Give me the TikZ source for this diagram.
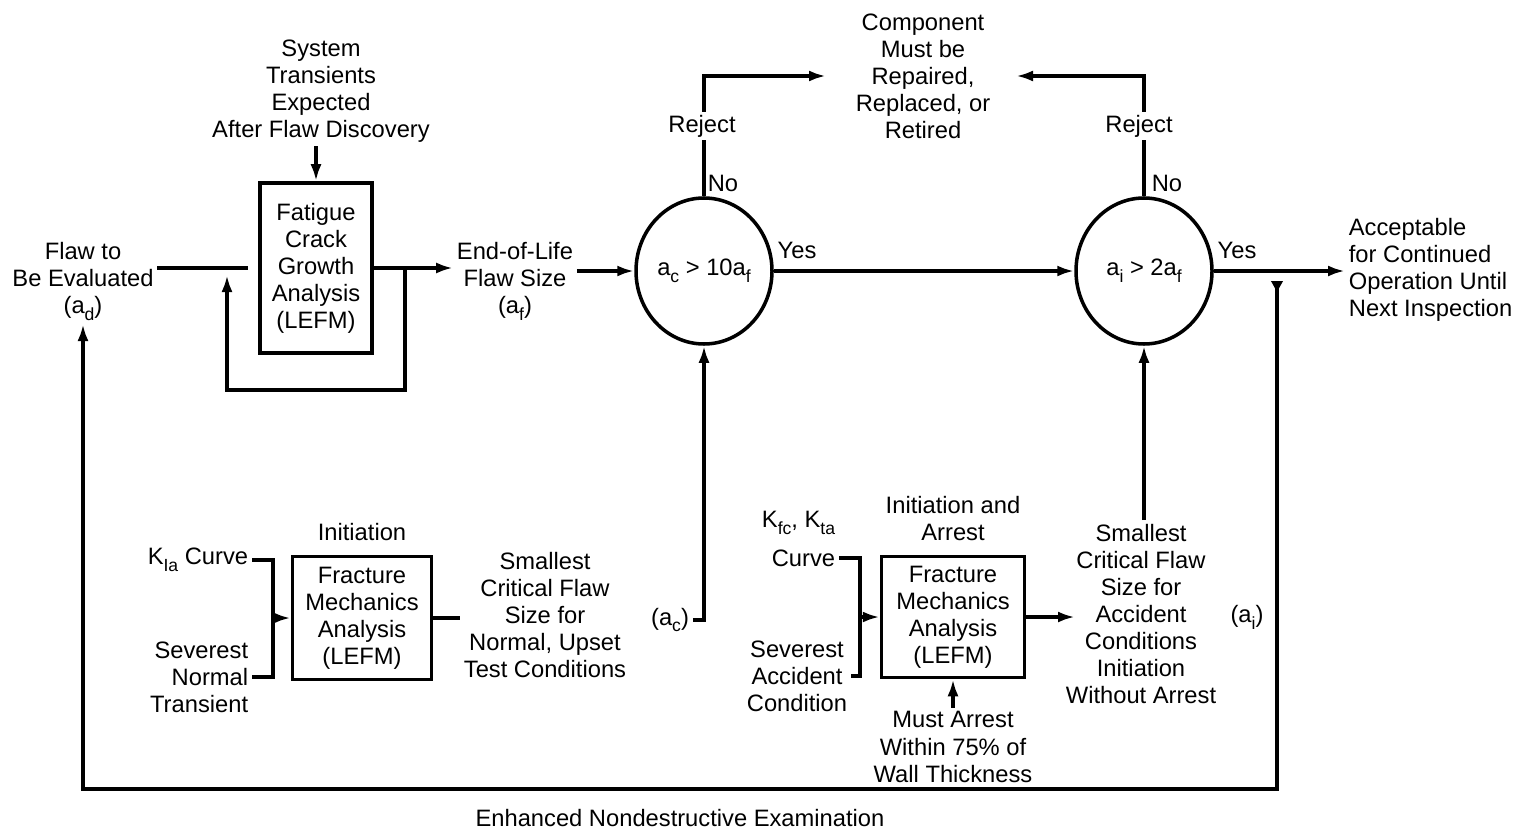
\documentclass[tikz,border=0pt]{standalone}
\usepackage{fontspec}
\setmainfont{Liberation Sans}
\usepackage{tikz}
\usetikzlibrary{positioning, arrows.meta, shapes.geometric}
\newcommand{\lsub}[1]{\raisebox{-0.55ex}{\fontsize{10}{10}\selectfont #1}}

\begin{document}
\begin{tikzpicture}[
  x=0.2mm, y=-0.2mm,
  font=\fontsize{13.5}{15.4}\selectfont,
  txt/.style={align=center, inner sep=2pt},
  box/.style={draw, line width=2pt, align=center, inner sep=0pt},
  test/.style={draw, ellipse, line width=2pt, inner sep=0pt,
               minimum width=27.2mm, minimum height=29.2mm},
  line/.style={line width=2pt},
  arr/.style={line width=2pt, -{Latex[length=3.4mm, width=2.2mm]}},
  tag/.style={fill=white, inner sep=1.5pt},
]
  \useasboundingbox (0,0) rectangle (1525,831);

  \node[box, minimum width=22.4mm, minimum height=34mm] (fatigue) at (316,268) {Fatigue\\Crack\\Growth\\Analysis\\(LEFM)};
  \node[box, minimum width=27.8mm, minimum height=24.6mm] (fr1) at (362,618) {Fracture\\Mechanics\\Analysis\\(LEFM)};
  \node[box, minimum width=28.6mm, minimum height=24.2mm] (fr2) at (953,617) {Fracture\\Mechanics\\Analysis\\(LEFM)};
  \node[test] (c1) at (704,271) {a\lsub{c} > 10a\lsub{f}};
  \node[test] (c2) at (1144,271) {a\lsub{i} > 2a\lsub{f}};

  \node[txt] (sys) at (321,91) {System\\Transients\\Expected\\After Flaw Discovery};
  \node[txt] (flaw) at (83,281) {Flaw to\\Be Evaluated\\(a\lsub{d})};
  \node[txt] (eol) at (515,281) {End-of-Life\\Flaw Size\\(a\lsub{f})};
  \node[txt] (comp) at (923,76) {Component\\Must be\\Repaired,\\Replaced, or\\Retired};
  \node[txt, align=left, anchor=west] (accept) at (1345,270) {Acceptable\\for Continued\\Operation Until\\Next Inspection};

  \node[txt, anchor=east] (kia) at (252,560) {K\lsub{Ia} Curve};
  \node[txt, align=right, anchor=east] (sev1) at (252,677) {Severest\\Normal\\Transient};
  \node[txt, above=2mm of fr1] (init1) {Initiation};
  \node[txt] (small1) at (545,615) {Smallest\\Critical Flaw\\Size for\\Normal, Upset\\Test Conditions};
  \node[txt] (ac) at (670,620) {(a\lsub{c})};

  \node[txt, anchor=east] (kfc) at (839,523) {K\lsub{fc}, K\lsub{ta}};
  \node[txt, anchor=east] (curve2) at (839,558) {Curve};
  \node[txt] (sev2) at (797,676) {Severest\\Accident\\Condition};
  \node[txt, above=2mm of fr2] (init2) {Initiation and\\Arrest};
  \node[txt] (must) at (953,747) {Must Arrest\\Within 75\% of\\Wall Thickness};
  \node[txt] (small2) at (1141,614) {Smallest\\Critical Flaw\\Size for\\Accident\\Conditions\\Initiation\\Without Arrest};
  \node[txt] (ai) at (1247,617) {(a\lsub{i})};
  \node[txt] (nde) at (680,818) {Enhanced Nondestructive Examination};

  \coordinate (loopout) at (405,268);
  \coordinate (loopin) at (227,268);
  \coordinate (tipL) at (826,76);
  \coordinate (tipR) at (1016,76);
  \coordinate (br1) at (273,618);
  \coordinate (br2) at (860,617);
  \coordinate (tap) at (1277,281);
  \coordinate (ndecorner) at (1277,789);

  \draw[arr] (sys.south -| fatigue.north) -- (fatigue.north);
  \draw[line, shorten >=2mm] (flaw.east |- fatigue.west) -- (fatigue.west);
  \draw[arr] (fatigue.east) -- (eol.west |- fatigue.east);
  \draw[arr, shorten >=1.4mm] (loopout) -- ++(0,122) -| (loopin);
  \draw[arr] (eol.east |- c1.west) -- (c1.west);
  \draw[arr] (c1.east) -- (c2.west);
  \draw[arr] (c1.north) |- (tipL);
  \draw[arr] (c2.north) |- (tipR);
  \draw[arr] (ac.east) -| (c1.south);
  \draw[line] (fr1.east) -- (small1.west |- fr1.east);
  \draw[line] (kia.east) -| (br1) |- (sev1.east);
  \draw[arr] (br1) -- (fr1.west);
  \draw[line] (curve2.east) -| (br2) |- (sev2.east);
  \draw[arr] (br2) -- (fr2.west);
  \draw[arr] (fr2.east) -- ([xshift=2.6mm]small2.west |- fr2.east);
  \draw[arr] (small2.north -| c2.south) -- (c2.south);
  \draw[arr] (must.north) -- (fr2.south);
  \draw[arr] (c2.east) -- (accept.west |- c2.east);
  \draw[line, {Latex[reversed, length=2.6mm, width=2.6mm]}-{Latex[length=3.4mm, width=2.2mm]}] (tap) -- (ndecorner) -| (flaw.south);

  \node[txt, tag] (rej1) at (702,126) {Reject};
  \node[txt, tag] (rej2) at (1139,126) {Reject};
  \node[txt] (no1) at (723,183) {No};
  \node[txt] (no2) at (1167,183) {No};
  \node[txt] (yes1) at (797,250) {Yes};
  \node[txt] (yes2) at (1237,250) {Yes};
\end{tikzpicture}
\end{document}
